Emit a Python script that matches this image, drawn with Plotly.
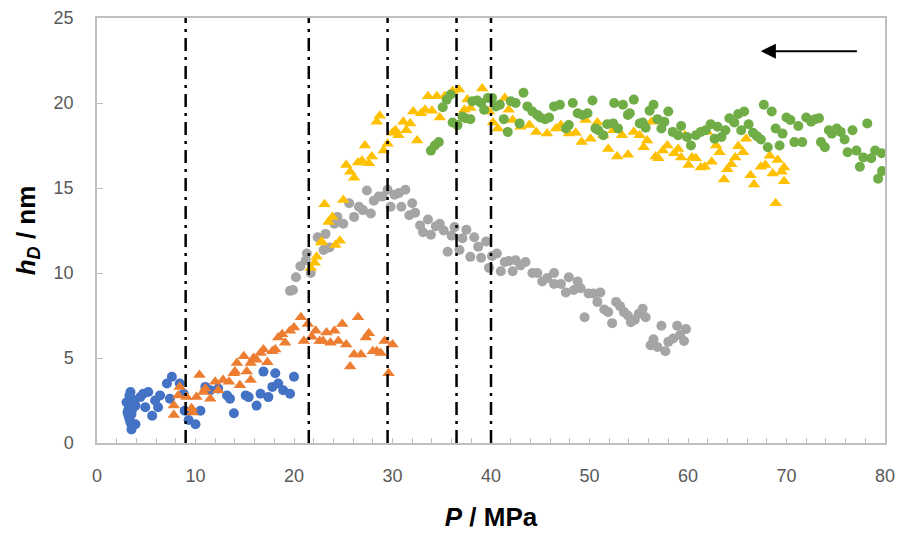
import plotly.graph_objects as go

# ---------------- data ----------------
blue_x = [3.3, 3.5, 3.0, 3.7, 3.2, 3.9, 3.1, 3.5, 3.3, 3.9, 3.5, 3.4, 3.6, 3.2, 3.8, 3.4,
          4.4, 4.7, 5.2, 4.9, 5.6, 5.9, 6.4, 6.2, 7.1, 7.6, 7.4, 8.4, 8.8, 8.9, 9.3, 10.0,
          10.5, 11.0, 11.5, 12.3, 13.2, 13.5, 13.9, 15.1, 15.4, 16.2, 16.6, 16.9, 17.4,
          17.8, 18.1, 18.4, 18.9, 19.6, 20.0]
blue_y = [2.8, 2.6, 2.4, 2.3, 2.0, 2.2, 1.8, 1.7, 1.4, 1.1, 0.8, 1.2, 2.0, 1.6, 2.5, 3.0,
          2.7, 2.9, 3.0, 2.1, 1.6, 2.5, 2.8, 2.1, 3.5, 3.9, 2.6, 3.5, 2.9, 1.9, 1.35, 1.1,
          1.9, 3.3, 3.1, 3.2, 2.8, 2.6, 1.75, 2.8, 2.7, 2.2, 2.9, 4.2, 2.7,
          3.3, 4.1, 3.5, 3.1, 2.9, 3.9]

orange_x = [7.8, 7.8, 8.4, 8.25, 9.1, 9.6, 9.7, 10.1, 10.4, 10.8, 11.0, 11.5, 12.0, 12.3,
            12.8, 13.4, 13.9, 14.0, 14.2, 14.5, 14.9, 15.2, 15.6, 15.6, 15.9, 16.2, 16.6,
            16.9, 17.3, 17.8, 18.1, 18.4, 18.8, 19.1, 19.6, 20.0, 20.7, 21.0, 21.4, 21.8,
            22.2, 22.6, 22.95, 23.3, 23.7, 24.1, 24.5, 24.9, 25.3, 25.7, 26.1, 26.5, 26.8,
            27.3, 27.6, 28.0, 28.4, 28.8, 29.2, 29.6, 30.0]
orange_y = [2.2, 1.65, 3.3, 2.8, 2.7, 2.05, 1.8, 2.7, 4.0, 3.0, 3.2, 2.6, 3.6, 3.1,
            3.7, 3.6, 4.1, 4.2, 4.7, 3.4, 5.1, 4.2, 3.7, 4.7, 5.0, 4.9, 5.3,
            5.5, 4.75, 5.4, 5.5, 6.2, 6.4, 5.9, 6.6, 6.8, 7.4, 6.0, 7.0, 6.25,
            6.6, 6.0, 6.0, 6.5, 5.9, 6.6, 6.0, 7.0, 5.8, 4.5, 5.2, 7.4, 5.2,
            6.2, 6.45, 5.4, 5.4, 5.3, 6.0, 4.1, 5.8]

gray_x = [19.6, 19.9, 20.2, 20.65, 21.2, 21.3, 21.7, 22.4, 23.0, 23.2, 23.6, 24.1, 24.4,
          25.0, 25.6, 26.1, 26.6, 27.0, 27.4, 27.8, 28.1, 28.6, 29.0, 29.5, 29.8, 30.2,
          30.65, 30.9, 31.3, 31.7, 32.0, 32.3, 32.8, 33.1, 33.6, 33.9, 34.4, 34.8, 35.2,
          35.6, 36.0, 36.3, 36.8, 37.1, 37.5, 37.9, 38.3, 38.7, 39.0, 39.5, 39.8, 40.1,
          40.6, 41.0, 41.4, 41.8, 42.2, 42.5, 43.0, 43.5, 44.2, 44.7, 45.2, 45.7, 46.4,
          46.4, 47.1, 47.6, 47.9, 48.4, 48.8, 49.1, 49.5, 49.9, 50.4, 50.8, 51.1, 51.5,
          51.9, 52.3, 52.7, 53.1, 53.5, 53.9, 54.2, 54.6, 55.0, 55.4, 55.7, 56.2, 56.5,
          56.9, 57.3, 57.7, 58.0, 58.5, 58.9, 59.2, 59.6, 59.8]
gray_y = [8.95, 9.0, 9.75, 10.4, 10.75, 11.15, 10.0, 12.1, 11.35, 12.3, 11.5, 12.9, 13.3,
          12.9, 14.1, 13.3, 13.9, 13.7, 14.85, 13.5, 14.25, 14.5, 14.5, 14.9, 13.9, 14.6,
          14.7, 13.9, 14.9, 13.4, 14.1, 13.55, 12.8, 12.4, 13.15, 12.25, 12.75, 12.9, 12.5,
          11.25, 12.2, 12.7, 11.35, 12.05, 12.55, 10.95, 12.1, 11.55, 10.9, 11.85, 10.3, 11.0,
          11.15, 10.1, 10.65, 10.7, 10.1, 10.75, 10.45, 10.65, 10.0, 10.0, 9.5, 9.7, 10.0,
          9.35, 9.35, 8.85, 9.75, 9.0, 9.5, 9.1, 7.4, 8.8, 8.8, 8.3, 8.85, 7.85,
          7.7, 7.05, 8.3, 8.05, 7.7, 7.5, 7.1, 7.25, 7.6, 7.9, 7.4, 5.75, 6.1,
          5.65, 6.9, 5.4, 5.95, 6.15, 6.9, 6.35, 6.0, 6.7]

yellow_x = [21.7, 22.1, 22.3, 22.75, 22.8, 23.1, 23.5, 23.9, 24.2, 24.65, 25.0, 25.3, 25.7,
            26.1, 26.5, 26.9, 27.2, 27.6, 27.9, 28.4, 28.7, 29.1, 29.5, 30.0, 30.3, 30.6,
            31.1, 31.4, 31.8, 32.1, 32.5, 32.9, 33.3, 33.6, 34.0, 34.5, 34.8, 35.3, 36.1,
            36.75, 37.3, 37.6, 37.9, 39.1, 39.8, 40.2, 40.7, 41.4, 41.8, 42.2, 43.0, 43.9,
            44.6, 45.7, 46.6, 47.1, 47.9, 48.6, 49.2, 49.6, 50.1, 50.8, 51.4, 51.9, 52.4,
            52.8, 53.3, 53.9, 54.5, 55.1, 55.5, 55.85, 56.3, 56.7, 57.0, 57.45, 57.9, 58.6,
            59.0, 59.3, 59.7, 60.05, 60.4, 60.8, 61.3, 61.7, 61.95, 62.4, 62.85, 63.2, 63.65,
            64.0, 64.4, 64.8, 65.1, 65.6, 65.9, 66.35, 66.7, 67.4, 67.85, 68.3, 68.6, 68.9,
            69.1, 69.5, 69.75, 69.75]
yellow_y = [10.3, 10.6, 10.95, 11.8, 11.85, 14.05, 13.0, 13.3, 11.65, 11.9, 14.3, 16.35, 15.95,
            15.6, 16.5, 16.6, 17.5, 16.45, 16.85, 18.9, 19.25, 17.2, 17.6, 18.25, 18.4, 18.1,
            18.9, 18.4, 18.8, 19.5, 17.8, 19.4, 19.6, 20.4, 19.55, 20.4, 19.15, 20.4, 20.7,
            20.8, 19.6, 20.2, 19.7, 20.85, 19.5, 18.85, 18.5, 20.3, 19.6, 19.0, 18.6, 18.7,
            18.3, 18.2, 18.5, 18.7, 18.2, 18.25, 17.7, 19.0, 17.9, 18.85, 18.1, 17.3, 18.4,
            16.85, 18.1, 16.95, 18.3, 18.1, 17.4, 17.8, 18.9, 16.85, 16.75, 17.2, 17.5, 17.05,
            17.3, 16.8, 18.1, 16.35, 16.8, 16.75, 16.2, 16.25, 18.3, 16.55, 17.5, 17.1, 15.5,
            16.1, 16.4, 16.8, 17.45, 17.1, 17.9, 15.75, 15.2, 16.25, 16.35, 16.9, 15.85, 14.1,
            16.65, 15.95, 16.2, 15.4]

green_x = [33.9, 34.3, 34.7, 35.1, 35.5, 35.9, 36.1, 36.6, 37.1, 37.4, 37.9, 38.1, 38.6,
           39.0, 39.3, 39.7, 40.1, 40.5, 40.9, 41.3, 41.7, 42.0, 42.5, 42.9, 43.3, 43.7,
           44.2, 44.7, 45.0, 45.5, 45.9, 46.4, 47.0, 47.6, 47.9, 48.3, 48.8, 49.3, 49.8,
           50.3, 50.6, 50.9, 51.4, 51.8, 52.4, 52.5, 52.9, 53.4, 53.9, 54.1, 54.5, 55.1,
           55.4, 55.7, 56.1, 56.5, 56.9, 57.3, 57.6, 58.0, 58.45, 59.0, 59.3, 59.9, 60.3,
           60.8, 61.3, 61.8, 62.3, 62.7, 63.0, 63.4, 63.8, 64.2, 64.7, 65.1, 65.4, 65.7,
           66.15, 66.6, 67.0, 67.4, 67.7, 68.1, 68.5, 68.9, 69.3, 69.6, 70.0, 70.4, 70.8,
           71.2, 71.6, 72.0, 72.5, 72.9, 73.3, 73.5, 73.9, 74.3, 74.6, 75.1, 75.5, 75.9,
           76.2, 76.7, 77.1, 77.45, 77.8, 78.2, 78.6, 79.0, 79.3, 79.65, 79.7]
green_y = [17.2, 17.5, 17.7, 19.75, 20.2, 20.5, 18.85, 18.7, 19.2, 19.1, 19.05, 20.1, 20.15,
           20.0, 19.6, 20.3, 20.3, 19.8, 19.9, 19.05, 18.3, 20.1, 20.0, 18.8, 20.6, 19.8,
           19.5, 19.3, 19.15, 19.05, 19.15, 19.8, 19.9, 18.5, 18.7, 20.0, 19.4, 19.3, 19.4,
           20.15, 18.5, 18.4, 18.1, 18.75, 18.8, 20.0, 18.5, 19.9, 19.3, 19.4, 20.2, 18.8,
           18.85, 18.55, 19.55, 19.9, 19.05, 18.5, 18.9, 19.5, 18.3, 18.1, 18.65, 18.0, 17.5,
           18.1, 18.3, 18.4, 18.75, 17.9, 18.6, 18.0, 18.4, 19.1, 18.85, 19.35, 18.4, 19.5,
           18.75, 18.25, 18.05, 17.85, 19.9, 17.4, 19.5, 18.5, 17.5, 18.2, 19.15, 19.0, 17.7,
           18.65, 17.7, 19.15, 18.9, 19.05, 19.1, 17.7, 17.4, 18.4, 18.2, 18.5, 18.3, 17.85,
           17.1, 18.4, 17.2, 16.25, 16.8, 18.8, 16.75, 17.2, 15.55, 17.05, 16.0]

vline_x = [9, 21.5, 29.5, 36.5, 40]
arrow_tail = (77.3, 23.05)
arrow_head = (67.4, 23.05)

x_ticks = [0, 10, 20, 30, 40, 50, 60, 70, 80]
y_ticks = [0, 5, 10, 15, 20, 25]

# ---------------- figure ----------------
fig = go.Figure()

series = [
    (blue_x, blue_y, "#4472C4", "circle", 10),
    (orange_x, orange_y, "#ED7D31", "triangle-up", 11),
    (gray_x, gray_y, "#A5A5A5", "circle", 10),
    (yellow_x, yellow_y, "#FFC000", "triangle-up", 11),
    (green_x, green_y, "#70AD47", "circle", 10),
]
for xs, ys, col, sym, sz in series:
    fig.add_trace(go.Scatter(
        x=xs, y=ys, mode="markers",
        marker=dict(color=col, symbol=sym, size=sz, line=dict(width=0)),
        showlegend=False, hoverinfo="skip"))

for vx in vline_x:
    fig.add_shape(type="line", xref="x", yref="y", x0=vx, x1=vx, y0=0, y1=25,
                  line=dict(color="black", width=2.5, dash="13px,6px,3px,6px"),
                  layer="above")

fig.add_annotation(x=arrow_head[0], y=arrow_head[1], ax=arrow_tail[0], ay=arrow_tail[1],
                   xref="x", yref="y", axref="x", ayref="y", text="",
                   showarrow=True, arrowhead=2, arrowsize=1.5, arrowwidth=2,
                   arrowcolor="black")

tickfont = dict(family="Liberation Sans", size=18, color="#595959")
fig.update_xaxes(range=[0, 80], tickvals=x_ticks, ticks="inside", ticklen=5,
                 tickcolor="#BFBFBF", showgrid=False, zeroline=False, automargin=False,
                 showline=True, linecolor="#BFBFBF", linewidth=1.5, mirror=True,
                 tickfont=tickfont, ticklabelstandoff=16,
                 minor=dict(dtick=2, ticks="inside", ticklen=5, tickcolor="#BFBFBF"),
                 title=dict(text="<b><i>P</i> / MPa</b>",
                            font=dict(family="Liberation Sans", size=26, color="black"),
                            standoff=22))
fig.update_yaxes(range=[0, 25], tickvals=y_ticks, ticks="inside", ticklen=6,
                 tickcolor="#BFBFBF", showgrid=False, zeroline=False, automargin=False,
                 showline=True, linecolor="#BFBFBF", linewidth=1.5, mirror=True,
                 tickfont=tickfont, ticklabelstandoff=18,
                 title=dict(text="<b><i>h</i><sub><i>D</i></sub> / nm</b>",
                            font=dict(family="Liberation Sans", size=26, color="black"),
                            standoff=11))

fig.update_layout(width=902, height=533, paper_bgcolor="white", plot_bgcolor="white",
                  margin=dict(l=97, r=17, t=18, b=90))

fig.write_html("out.html")
